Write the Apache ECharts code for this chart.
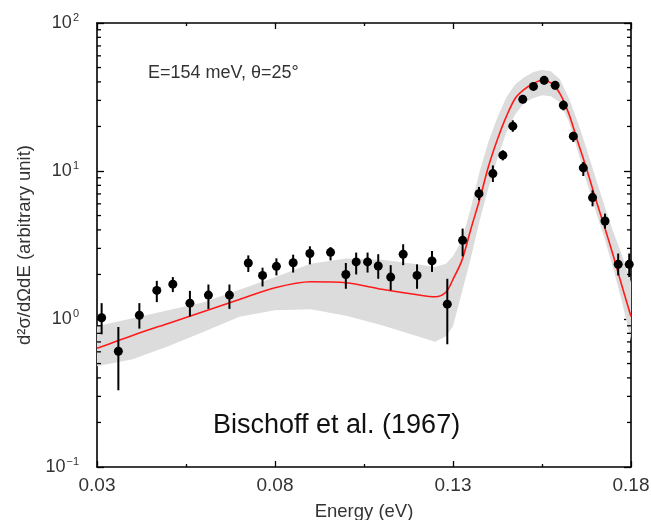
<!DOCTYPE html>
<html>
<head>
<meta charset="utf-8">
<script src="https://cdn.jsdelivr.net/npm/echarts@6/dist/echarts.min.js"></script>
<style>html,body{margin:0;padding:0;background:#fff}#c{width:651px;height:520px}</style>
</head>
<body>
<div id="c"></div>
<script>
// measured points (Bischoff et al. 1967)
var pointsX = [0.0313,0.0360,0.0419,0.0468,0.0513,0.0561,0.0613,0.0672,0.0725,0.0765,0.0804,0.0851,0.0898,0.0956,0.0999,0.1028,0.1060,0.1090,0.1125,0.1160,0.1199,0.1241,0.1284,0.1327,0.1373,0.1412,0.1440,0.1468,0.1496,0.1526,0.1556,0.1587,0.1610,0.1638,0.1666,0.1692,0.1727,0.1764,0.1795];
var pointsY = [1.02,0.605,1.06,1.56,1.72,1.28,1.45,1.45,2.39,1.97,2.27,2.40,2.77,2.82,2.00,2.43,2.43,2.28,1.92,2.74,1.97,2.47,1.26,3.40,7.03,9.6,12.8,20.1,30.5,37.3,41.0,37.9,27.8,17.2,10.5,6.61,4.59,2.34,2.34];
var errHigh = [1.28,0.883,1.28,1.81,1.92,1.55,1.71,1.71,2.69,2.22,2.57,2.72,3.10,3.06,2.39,2.81,2.81,2.74,2.31,3.20,2.34,2.88,1.87,4.08,7.80,10.9,13.8,22.0,32.4,39.7,43.5,40.4,30.0,18.4,11.5,7.41,5.15,2.77,2.77];
var errLow = [0.789,0.330,0.861,1.30,1.52,1.04,1.17,1.17,2.08,1.66,1.97,2.06,2.34,2.49,1.60,2.00,2.06,1.87,1.56,2.31,1.60,2.08,0.675,2.65,6.34,8.43,11.8,18.4,28.7,35.1,38.5,35.6,25.7,15.7,9.25,5.77,4.08,1.97,1.92];

// fitted curve and uncertainty band
var fitX = [0.030,0.040,0.050,0.060,0.070,0.080,0.090,0.100,0.110,0.120,0.125,0.128,0.130,0.1325,0.135,0.1375,0.140,0.1425,0.145,0.1475,0.150,0.1525,0.155,0.1575,0.160,0.1625,0.165,0.1675,0.170,0.1725,0.175,0.1775,0.180];
var fitY = [0.634,0.775,0.934,1.124,1.354,1.625,1.784,1.756,1.587,1.457,1.413,1.515,1.854,2.49,4.04,6.44,10.8,16.4,23.4,31.0,35.6,38.9,41.0,39.4,33.5,24.5,15.9,10.4,6.54,4.23,2.69,1.66,1.04];
var bandHi = [0.893,1.01,1.145,1.297,1.575,1.913,2.36,2.56,2.51,2.34,2.25,2.36,2.65,3.40,5.60,9.95,15.9,23.1,31.5,38.5,43.0,46.4,48.3,47.2,41.7,31.2,21.5,14.2,9.07,5.87,3.88,2.69,1.77];
var bandLo = [0.479,0.534,0.654,0.819,1.035,1.145,1.163,1.051,0.907,0.764,0.701,0.764,0.893,1.515,2.57,4.64,7.76,12.2,18.3,24.2,28.9,31.0,32.5,32.0,29.1,21.7,13.8,8.52,5.43,3.56,2.20,1.30,0.718];

// axis ticks
var xTicks = [0.03, 0.08, 0.13, 0.18];
var yMinorTicks = [0.2,0.3,0.4,0.5,0.6,0.7,0.8,0.9,2,3,4,5,6,7,8,9,20,30,40,50,60,70,80,90];

var FONT = 'Liberation Sans, Arial, Helvetica, sans-serif';
var chart = echarts.init(document.getElementById('c'));

function yLabel(v) {
  var e = Math.round(Math.log(v) / Math.LN10);
  var es = e < 0 ? '\u2212' + (-e) : '' + e;
  return '{b|10}{s|' + es + '}';
}

var axisLineStyle = {color: '#000', width: 1.6};
var option = {
  animation: false,
  backgroundColor: '#fff',
  grid: {left: 97, right: 20, top: 23, bottom: 53, containLabel: false, outerBoundsMode: 'none'},
  xAxis: [{
    type: 'value', min: xTicks[0], max: xTicks[xTicks.length - 1], interval: 0.05,
    position: 'bottom',
    axisLine: {show: true, onZero: false, lineStyle: axisLineStyle},
    axisTick: {show: true, inside: true, length: 6, lineStyle: {color: '#000', width: 1.3}},
    minorTick: {show: true, splitNumber: 2, length: 3, lineStyle: {color: '#000', width: 1.3}},
    splitLine: {show: false},
    axisLabel: {color: '#333', fontSize: 19, fontFamily: FONT, margin: 9,
      formatter: function (v) { return v.toFixed(2); }},
    name: 'Energy (eV)', nameLocation: 'middle', nameGap: 35,
    nameTextStyle: {color: '#333', fontSize: 18.5, fontFamily: FONT}
  }, {
    type: 'value', min: xTicks[0], max: xTicks[xTicks.length - 1], interval: 0.05,
    position: 'top',
    axisLine: {show: true, onZero: false, lineStyle: axisLineStyle},
    axisTick: {show: true, inside: true, length: 6, lineStyle: {color: '#000', width: 1.3}},
    minorTick: {show: true, splitNumber: 2, length: 3, lineStyle: {color: '#000', width: 1.3}},
    splitLine: {show: false},
    axisLabel: {show: false}
  }],
  yAxis: [{
    type: 'log', logBase: 10, min: 0.1, max: 100,
    position: 'left',
    axisLine: {show: true, onZero: false, lineStyle: axisLineStyle},
    axisTick: {show: true, inside: true, length: 7, lineStyle: {color: '#000', width: 1.3}},
    splitLine: {show: false},
    axisLabel: {margin: 18, formatter: yLabel,
      rich: {
        b: {color: '#333', fontSize: 18, fontFamily: FONT},
        s: {color: '#333', fontSize: 11, fontFamily: FONT, padding: [0, 0, 10, 1]}
      }},
    name: 'd\u00B2\u03C3/d\u03A9dE (arbitrary unit)', nameLocation: 'middle', nameGap: 63,
    nameTextStyle: {color: '#333', fontSize: 18.5, fontFamily: FONT}
  }, {
    type: 'log', logBase: 10, min: 0.1, max: 100,
    position: 'right',
    axisLine: {show: true, onZero: false, lineStyle: axisLineStyle},
    axisTick: {show: true, inside: true, length: 7, lineStyle: {color: '#000', width: 1.3}},
    splitLine: {show: false},
    axisLabel: {show: false}
  }],
  graphic: [
    {type: 'text', left: 148, top: 64, silent: true,
      style: {text: 'E=154 meV, \u03B8=25\u00B0', fill: '#333', font: '18px ' + FONT}},
    {type: 'text', left: 213, top: 412, silent: true,
      style: {text: 'Bischoff et al. (1967)', fill: '#111', font: '27px ' + FONT}}
  ],
  series: [
    {
      type: 'custom', name: 'band', silent: true, z: 1,
      data: [[fitX[0], fitY[0]]],
      renderItem: function (params, api) {
        var pts = [];
        for (var i = 0; i < fitX.length; i++) pts.push(api.coord([fitX[i], bandHi[i]]));
        for (var j = fitX.length - 1; j >= 0; j--) pts.push(api.coord([fitX[j], bandLo[j]]));
        return {type: 'polygon', shape: {points: pts}, style: {fill: '#dcdcdc', stroke: null}};
      }
    },
    {
      type: 'line', name: 'fit', z: 3, silent: true,
      data: fitX.map(function (x, i) { return [x, fitY[i]]; }),
      smooth: 0.3, showSymbol: false,
      lineStyle: {color: '#ff1a1a', width: 1.6}
    },
    {
      type: 'custom', name: 'minorTicks', silent: true, z: 5,
      data: yMinorTicks.map(function (v) { return [xTicks[0], v]; }),
      renderItem: function (params, api) {
        var v = api.value(1);
        var l = api.coord([xTicks[0], v]);
        var r = api.coord([xTicks[xTicks.length - 1], v]);
        var st = {stroke: '#000', lineWidth: 1.3};
        return {type: 'group', children: [
          {type: 'line', shape: {x1: l[0], y1: l[1], x2: l[0] + 4, y2: l[1]}, style: st},
          {type: 'line', shape: {x1: r[0], y1: r[1], x2: r[0] - 4, y2: r[1]}, style: st}
        ]};
      }
    },
    {
      type: 'custom', name: 'errors', silent: true, z: 6,
      data: pointsX.map(function (x, i) { return [x, errLow[i], errHigh[i]]; }),
      encode: {x: 0, y: [1, 2]},
      renderItem: function (params, api) {
        var a = api.coord([api.value(0), api.value(1)]);
        var b = api.coord([api.value(0), api.value(2)]);
        return {type: 'line', shape: {x1: a[0], y1: a[1], x2: b[0], y2: b[1]},
          style: {stroke: '#000', lineWidth: 2}};
      }
    },
    {
      type: 'scatter', name: 'data', z: 7, silent: true,
      data: pointsX.map(function (x, i) { return [x, pointsY[i]]; }),
      symbol: 'circle', symbolSize: 9,
      itemStyle: {color: '#000', opacity: 1}
    }
  ]
};
chart.setOption(option);
</script>
</body>
</html>
